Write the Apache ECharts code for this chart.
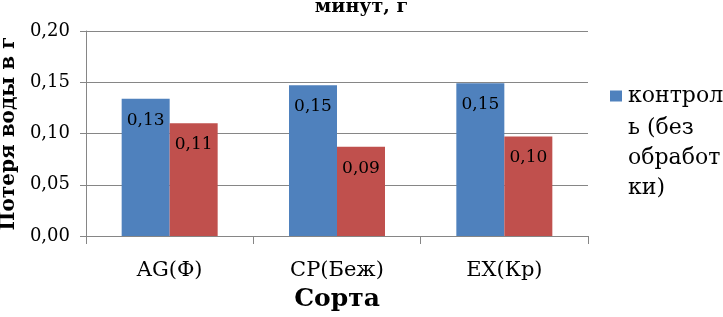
<!DOCTYPE html>
<html><head><meta charset="utf-8">
<script src="https://cdn.jsdelivr.net/npm/echarts@6/dist/echarts.min.js"></script>
<style>html,body{margin:0;padding:0;background:#fff}#c{width:723px;height:317px}</style>
</head><body><div id="c"></div>
<script>
const categories = ['AG(Ф)', 'CP(Беж)', 'EX(Кр)'];
const seriesNames = ['контроль (без обработки)', 'обработка'];
const controlValues = [0.134, 0.147, 0.149];
const treatedValues = [0.110, 0.087, 0.097];
const yTicks = { min: 0, max: 0.2, interval: 0.05 };
const titleText = 'минут, г';
const yName = 'Потеря воды в г';
const xName = 'Сорта';
const legendLines = ['контрол', 'ь (без', 'обработ', 'ки)'];

const FONT = 'DejaVu Serif';
const fmt = v => v.toFixed(2).replace('.', ',');
const chart = echarts.init(document.getElementById('c'), null, { renderer: 'canvas' });
const labelOpt = {
  show: true, position: 'insideTop', distance: 13,
  formatter: p => fmt(p.value), color: '#000', fontFamily: FONT, fontSize: 17
};
chart.setOption({
  animation: false,
  title: {
    text: titleText, left: 'center', top: -7,
    textStyle: { fontFamily: FONT, fontWeight: 'bold', fontSize: 19, color: '#000' }
  },
  legend: {
    data: [seriesNames[0]], orient: 'vertical', left: 610, top: 85, padding: 0,
    icon: 'rect', itemWidth: 12, itemHeight: 11, itemGap: 0,
    formatter: () => legendLines[0],
    textStyle: { fontFamily: FONT, fontSize: 22, lineHeight: 22, color: '#000', padding: [0, 0, 0, 1] }
  },
  graphic: [{
    type: 'text', left: 628, top: 113,
    style: { text: legendLines.slice(1).join('\n'), font: '22px "DejaVu Serif"', fill: '#000', lineHeight: 30 }
  }],
  grid: { left: 86, right: 135, top: 31, bottom: 81, outerBoundsMode: 'none', containLabel: false },
  xAxis: {
    type: 'category', data: categories,
    name: xName, nameLocation: 'middle', nameGap: 51,
    nameTextStyle: { fontFamily: FONT, fontWeight: 'bold', fontSize: 25, color: '#000' },
    axisLine: { lineStyle: { color: '#868686', width: 1 } },
    axisTick: { show: true, length: 8, lineStyle: { color: '#868686' } },
    axisLabel: { margin: 24, fontFamily: FONT, fontSize: 21, color: '#000' }
  },
  yAxis: {
    type: 'value', min: yTicks.min, max: yTicks.max, interval: yTicks.interval,
    name: yName, nameLocation: 'middle', nameGap: 63, nameRotate: 90,
    nameTextStyle: { fontFamily: FONT, fontWeight: 'bold', fontSize: 20, color: '#000' },
    axisLine: { show: true, lineStyle: { color: '#868686', width: 1 } },
    axisTick: { show: true, length: 6, lineStyle: { color: '#868686' } },
    splitLine: { lineStyle: { color: '#868686', width: 1 } },
    axisLabel: { margin: 16, fontFamily: FONT, fontSize: 18, color: '#000', formatter: v => fmt(v) }
  },
  series: [
    { name: seriesNames[0], type: 'bar', data: controlValues, barWidth: 48, barGap: '0%',
      itemStyle: { color: '#4F81BD' }, label: labelOpt },
    { name: seriesNames[1], type: 'bar', data: treatedValues, barWidth: 48, barGap: '0%',
      itemStyle: { color: '#C0504D' }, label: labelOpt }
  ]
});
</script></body></html>
